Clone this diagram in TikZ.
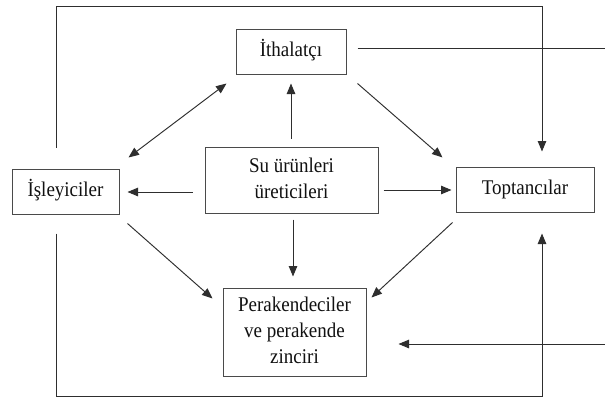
\documentclass[tikz,border=0pt]{standalone}
\usepackage{fontspec}
\setmainfont{Liberation Serif}
\usepackage{graphicx}
\usetikzlibrary{arrows.meta}
\newcommand{\boxtxt}[1]{\scalebox{1}[1.1]{\fontsize{19}{23.5}\selectfont\begin{tabular}{@{}c@{}}#1\end{tabular}}}
\definecolor{ln}{HTML}{2E2E2E}
\definecolor{bx}{HTML}{4A4A4A}
\definecolor{tx}{HTML}{111111}
\begin{document}
\begin{tikzpicture}[x=1pt,y=-1pt,
  box/.style={draw=bx, line width=1pt, inner sep=0pt, text=tx, anchor=center},
  conn/.style={draw=ln, line width=0.95pt},
  arr/.style={conn, -{Triangle[length=10.5pt,width=8.5pt]}},
  darr/.style={conn, {Triangle[length=10.5pt,width=8.5pt]}-{Triangle[length=10.5pt,width=8.5pt]}}]
\useasboundingbox[fill=white] (0,0) rectangle (605,399);
\node[box, minimum width=110pt, minimum height=45pt] (ith) at (291,51.5) {\boxtxt{İthalatçı}};
\node[box, minimum width=173pt, minimum height=66pt] (su) at (291.5,180) {\boxtxt{Su ürünleri\\üreticileri}};
\node[box, minimum width=107pt, minimum height=45pt] (isl) at (65.5,191.5) {\boxtxt{İşleyiciler}};
\node[box, minimum width=138pt, minimum height=45pt] (top) at (525,189.5) {\boxtxt{Toptancılar}};
\node[box, minimum width=143pt, minimum height=88pt] (per) at (294.5,332) {\boxtxt{Perakendeciler\\ve perakende\\zinciri}};
\coordinate (rA) at (606,48);
\coordinate (rB) at (606,344);
% arrows between nodes
\draw[darr] ([shift={(9,-11)}]isl.north east) -- ([shift={(-9,9)}]ith.south west);
\draw[arr] ([shift={(-0.5,-8)}]su.north) -- ([shift={(0,9)}]ith.south);
\draw[arr] ([shift={(11,9)}]ith.south east) -- ([shift={(-13,-9)}]top.north west);
\draw[arr] ([shift={(-12,12)}]su.west) -- ([shift={(8,0.5)}]isl.east);
\draw[arr] ([shift={(5,10)}]su.east) -- ([shift={(-4,0.5)}]top.west);
\draw[arr] ([shift={(8,9)}]isl.south east) -- ([shift={(-10,11)}]per.north west);
\draw[arr] ([shift={(1.5,6)}]su.south) -- ([shift={(-1.5,-11)}]per.north);
\draw[arr] ([shift={(-3,10)}]top.south west) -- ([shift={(5,10)}]per.north east);
% loops
\draw[arr] ([shift={(-9.5,-21)}]isl.north) -- ++(0,-141) -| ([shift={(17,-15)}]top.north);
\draw[arr] ([shift={(-9.5,19)}]isl.south) -- ++(0,163) -| ([shift={(17,21)}]top.south);
% right-edge lines
\draw[conn] ([shift={(11,-3.5)}]ith.east) -- (rA);
\draw[arr] (rB) -- ([shift={(32,12)}]per.east);
\end{tikzpicture}
\end{document}
